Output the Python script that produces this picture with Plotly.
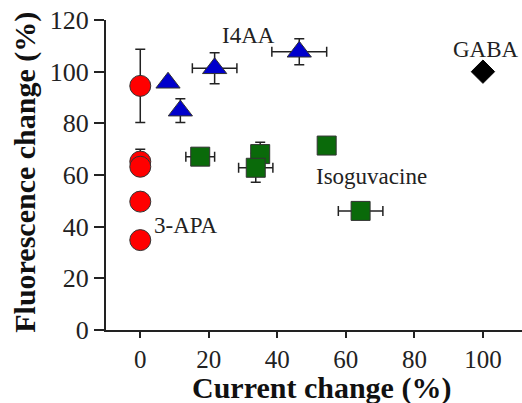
import plotly.graph_objects as go

# 3-APA (red circles)
apa_x = [0, 0, 0, 0, 0]
apa_y = [94.5, 65.2, 63.2, 49.7, 34.8]
apa_ey = [14.2, 4.8, 0, 0, 0]

# I4AA (blue triangles)
i4aa_x = [8.1, 11.7, 21.7, 46.4]
i4aa_y = [95.7, 84.9, 101.3, 107.7]
i4aa_ex = [0, 0, 6.5, 8.0]
i4aa_ey = [1.5, 4.6, 6.0, 5.0]

# Isoguvacine (green squares)
iso_x = [17.5, 35.0, 33.7, 54.4, 64.3]
iso_y = [67.1, 68.1, 62.8, 71.4, 46.1]
iso_ex = [4.2, 0, 5.0, 1.5, 6.5]
iso_ey = [0, 4.6, 5.6, 0, 1.0]

# GABA (black diamond)
gaba_x = [100]
gaba_y = [100]

labels = ["3-APA", "I4AA", "Isoguvacine", "GABA"]
label_x = [13.1, 31.5, 67.6, 100.8]
label_y = [40.3, 114.0, 59.6, 108.5]

x_title = "Current change (%)"
y_title = "Fluorescence change (%)"

font_serif = "Liberation Serif, Times New Roman, serif"
err_style = dict(color="#222", thickness=1.5, width=5)
outline = dict(color="#333", width=1)

fig = go.Figure()
fig.add_trace(go.Scatter(
    x=apa_x, y=apa_y, mode="markers",
    error_y=dict(type="data", array=apa_ey, visible=True, **err_style),
    marker=dict(symbol="circle", size=21, color="red", line=outline),
))
fig.add_trace(go.Scatter(
    x=i4aa_x, y=i4aa_y, mode="markers",
    error_x=dict(type="data", array=i4aa_ex, visible=True, **err_style),
    error_y=dict(type="data", array=i4aa_ey, visible=True, **err_style),
    marker=dict(symbol="triangle-up", size=21, color="#0000cc", line=outline),
))
fig.add_trace(go.Scatter(
    x=iso_x, y=iso_y, mode="markers",
    error_x=dict(type="data", array=iso_ex, visible=True, **err_style),
    error_y=dict(type="data", array=iso_ey, visible=True, **err_style),
    marker=dict(symbol="square", size=19, color="#0a6a0a", line=outline),
))
fig.add_trace(go.Scatter(
    x=gaba_x, y=gaba_y, mode="markers",
    marker=dict(symbol="diamond", size=18, color="black", line=dict(color="black", width=1)),
))

for t, lx, ly in zip(labels, label_x, label_y):
    fig.add_annotation(x=lx, y=ly, text=t, showarrow=False,
                       font=dict(family=font_serif, size=23, color="#222"))

# axis titles as paper-positioned text
fig.add_annotation(xref="paper", yref="paper", x=0.517, y=-0.187,
                   xanchor="center", yanchor="middle", showarrow=False,
                   text="<b>" + x_title + "</b>",
                   font=dict(family=font_serif, size=30, color="#111"))
fig.add_annotation(xref="paper", yref="paper", x=-0.195, y=0.51,
                   xanchor="center", yanchor="middle", showarrow=False,
                   textangle=-90, text="<b>" + y_title + "</b>",
                   font=dict(family=font_serif, size=30, color="#111"))

fig.update_layout(
    width=522, height=403,
    margin=dict(l=106, r=0, t=20, b=73),
    paper_bgcolor="white", plot_bgcolor="white",
    showlegend=False,
    font=dict(family=font_serif, size=25, color="#222"),
)
fig.update_xaxes(
    range=[-10, 111.4], tickvals=[0, 20, 40, 60, 80, 100],
    showline=True, linecolor="#222", linewidth=2, showgrid=False, zeroline=False,
    ticks="outside", ticklen=6, tickwidth=1.5, tickcolor="#222",
    tickfont=dict(family=font_serif, size=25), automargin=False,
)
fig.update_yaxes(
    range=[0, 120], tickvals=[0, 20, 40, 60, 80, 100, 120],
    showline=True, linecolor="#222", linewidth=2, showgrid=False, zeroline=False,
    ticks="outside", ticklen=10, tickwidth=1.5, tickcolor="#222",
    tickfont=dict(family=font_serif, size=26), automargin=False,
)

fig.write_html("out.html", config={"displayModeBar": False},
               post_script="document.body.style.margin='0';document.body.style.padding='0';")
